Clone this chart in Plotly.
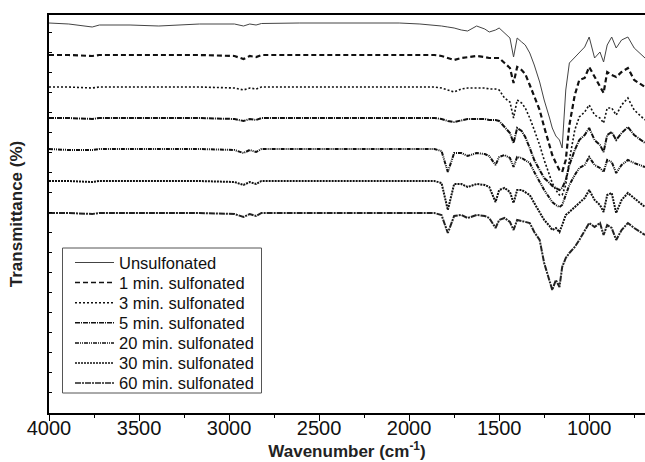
import plotly.graph_objects as go

wavenumber = [4000, 3890, 3760, 3720, 3550, 3390, 3165, 2970, 2920, 2885,
              2850, 2820, 2610, 2330, 2055, 1940, 1860, 1820, 1785, 1750,
              1710, 1675, 1625, 1580, 1555, 1520, 1500, 1470, 1440, 1420,
              1400, 1375, 1355, 1330, 1305, 1275, 1250, 1220, 1205, 1185,
              1165, 1150, 1130, 1110, 1080, 1055, 1025, 1000, 970, 940,
              920, 900, 875, 850, 820, 785, 750, 690]

unsulfonated = [390, 389, 386, 388, 388, 387, 389, 389, 387, 389,
                388, 389.5, 390, 390, 390, 389, 388, 387, 386, 385,
                383, 382, 387, 384, 381, 383, 385, 380, 375, 356,
                375, 371, 368, 360, 348, 331, 313, 295, 285, 277,
                273, 265, 323, 350, 356, 361, 366, 376, 355, 361,
                351, 368, 376, 365, 373, 376, 365, 355]

sulf_1min = [358, 358, 357, 358, 358, 358, 358, 357, 354, 357,
             356, 358, 358, 358, 358, 358, 358, 357, 355, 353,
             355, 356, 357, 356, 355, 355, 355, 350, 345, 330,
             346, 343, 339, 328, 316, 303, 286, 268, 258, 250,
             243, 241, 253, 288, 318, 333, 335, 346, 336, 326,
             320, 341, 338, 336, 341, 345, 333, 326]

sulf_3min = [326, 326, 325, 326, 326, 326, 326, 325, 323, 325,
             324, 326, 326, 326, 326, 326, 326, 325, 323, 321,
             324, 325, 325, 325, 324, 324, 323, 315, 311, 295,
             313, 310, 305, 295, 283, 268, 253, 238, 230, 223,
             218, 218, 228, 253, 283, 296, 301, 308, 298, 295,
             290, 305, 305, 298, 308, 315, 303, 293]

sulf_5min = [295, 295, 294, 295, 295, 295, 295, 294, 292, 294,
             293, 295, 295, 295, 295, 295, 295, 294, 292, 291,
             293, 294, 294, 294, 293, 293, 292, 286, 280, 270,
             285, 282, 276, 265, 253, 243, 235, 230, 227, 225,
             223, 225, 233, 248, 263, 273, 278, 285, 273, 268,
             261, 278, 281, 273, 280, 286, 278, 270]

sulf_20min = [264, 263, 263, 264, 264, 264, 264, 263, 260, 263,
              261, 264, 264, 264, 264, 264, 264, 262, 241, 260,
              260, 257, 260, 259, 257, 248, 256, 258, 255, 246,
              256, 255, 253, 250, 241, 231, 223, 215, 211, 208,
              206, 208, 218, 228, 238, 245, 248, 256, 248, 245,
              241, 253, 251, 240, 248, 253, 250, 246]

sulf_30min = [232, 232, 231, 232, 232, 232, 232, 231, 228, 231,
              229, 232, 232, 232, 232, 232, 232, 230, 203, 229,
              229, 226, 229, 228, 226, 211, 223, 225, 221, 210,
              223, 223, 221, 218, 210, 201, 193, 187, 183, 185,
              181, 188, 198, 201, 206, 210, 215, 223, 213, 208,
              201, 218, 220, 200, 213, 220, 215, 206]

sulf_60min = [200, 200, 199, 200, 200, 200, 200, 199, 196, 199,
              197, 200, 200, 200, 200, 200, 200, 198, 180, 197,
              198, 195, 198, 197, 195, 185, 193, 195, 191, 183,
              193, 192, 191, 190, 181, 173, 150, 133, 123, 133,
              126, 146, 155, 160, 166, 173, 183, 190, 186, 190,
              178, 188, 185, 173, 183, 190, 185, 178]

series_names = ["Unsulfonated", "1 min. sulfonated", "3 min. sulfonated",
                "5 min. sulfonated", "20 min. sulfonated", "30 min. sulfonated",
                "60 min. sulfonated"]
series_values = [unsulfonated, sulf_1min, sulf_3min, sulf_5min,
                 sulf_20min, sulf_30min, sulf_60min]
styles = [
    dict(color="#444444", width=1, dash="solid"),
    dict(color="#111111", width=2.2, dash="5px,3px"),
    dict(color="#111111", width=1.6, dash="2px,2px"),
    dict(color="#111111", width=2, dash="5px,1px,1px,1px"),
    dict(color="#111111", width=2, dash="4px,1px,1px,1px,1px,1px"),
    dict(color="#111111", width=2, dash="2px,1px"),
    dict(color="#222222", width=2, dash="6px,1px,2px,1px"),
]

fig = go.Figure()
for name, vals, st in zip(series_names, series_values, styles):
    fig.add_trace(go.Scatter(x=wavenumber, y=vals, mode="lines", name=name,
                             line=st, showlegend=False, hoverinfo="skip"))

font_family = "Liberation Sans, Arial, sans-serif"

# ---- legend drawn as a boxed key (paper coordinates) ----
W, H = 596.0, 398.0          # plot area size in px
L, T = 49.0, 15.0            # plot area offset
def px_x(p):
    return (p - L) / W
def px_y(p):
    return (T + H - p) / H

shapes = [dict(type="rect", xref="paper", yref="paper",
               x0=px_x(62.5), x1=px_x(261.5), y0=px_y(393), y1=px_y(248),
               line=dict(color="#555555", width=1), fillcolor="white", layer="above")]
annotations = []
for i, (name, st) in enumerate(zip(series_names, styles)):
    yc = 262.5 + i * 20.1
    line_style = dict(st)
    line_style["width"] = min(st["width"], 1.5)
    shapes.append(dict(type="line", xref="paper", yref="paper",
                       x0=px_x(75), x1=px_x(114), y0=px_y(yc), y1=px_y(yc),
                       line=line_style, layer="above"))
    annotations.append(dict(xref="paper", yref="paper", x=px_x(117), y=px_y(yc),
                            xanchor="left", yanchor="middle", showarrow=False,
                            text=name, font=dict(size=16.5, family=font_family, color="#111111")))

fig.update_layout(
    width=645, height=462,
    margin=dict(l=49, r=0, t=15, b=49),
    paper_bgcolor="white", plot_bgcolor="white",
    font=dict(family=font_family, color="black"),
    showlegend=False,
    shapes=shapes,
    annotations=annotations,
    xaxis=dict(range=[4000, 690], tickvals=[4000, 3500, 3000, 2500, 2000, 1500, 1000],
               ticks="outside", ticklen=6, tickwidth=1.2, tickcolor="black",
               minor=dict(dtick=250, tick0=0, ticks="outside", ticklen=3, tickcolor="black"),
               showline=True, linecolor="black", linewidth=1.5, mirror=True,
               showgrid=False, zeroline=False,
               ticklabelstandoff=-10,
               tickfont=dict(size=20, family=font_family, color="#111111"),
               title=dict(text="<b>Wavenumber (cm<sup>-1</sup>)</b>",
                          font=dict(size=17, family=font_family, color="#222222"), standoff=0)),
    xaxis2=dict(range=[4000, 690], overlaying="x", side="top", anchor="y",
                tick0=0, dtick=250, ticks="inside", ticklen=3, tickcolor="black",
                showticklabels=False, showline=False, showgrid=False, zeroline=False),
    yaxis=dict(range=[0, 398], showticklabels=False,
               tick0=1, dtick=20, ticks="inside", ticklen=3, tickcolor="black",
               showline=True, linecolor="black", linewidth=1.5, mirror=False,
               showgrid=False, zeroline=False,
               title=dict(text="<b>Transmittance (%)</b>",
                          font=dict(size=17, family=font_family, color="#222222"), standoff=20)),
)

fig.write_html("out.html", config={"displayModeBar": False},
               post_script="document.body.style.margin='0';")
